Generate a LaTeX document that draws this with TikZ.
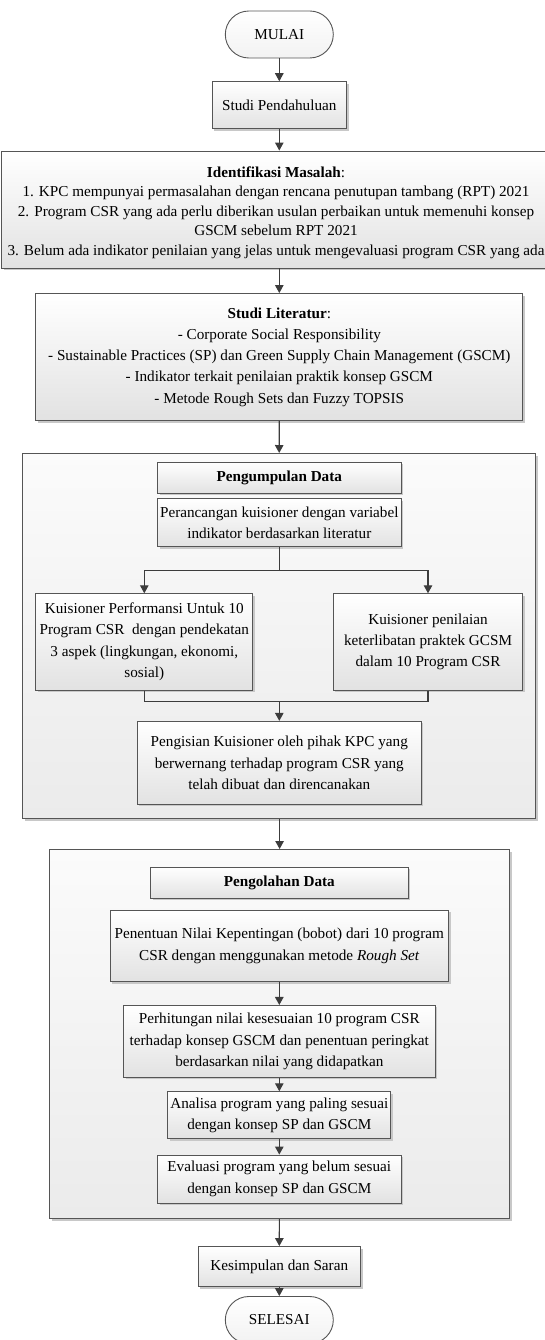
\documentclass[tikz,border=0pt]{standalone}
\usepackage{fontspec}
\setmainfont{Liberation Serif}
\usetikzlibrary{arrows.meta,shadows}
\definecolor{edge}{HTML}{555555}
\definecolor{arrowc}{HTML}{3C3C3C}
\definecolor{boxbot}{HTML}{E2E2E2}
\definecolor{outtop}{HTML}{FBFBFB}
\definecolor{outbot}{HTML}{EBEBEB}
\definecolor{shadowc}{HTML}{C8C8C8}
\begin{document}
\begin{tikzpicture}[x=1pt,y=-1pt,
  every node/.style={font=\fontsize{15.2}{21.3}\selectfont, align=center, inner sep=0pt},
  box/.style={draw=edge, line width=0.9pt, top color=white, bottom color=boxbot,
    drop shadow={shadow xshift=2pt, shadow yshift=-2pt, fill=shadowc, opacity=1}},
  outer/.style={draw=edge, line width=1pt, top color=outtop, bottom color=outbot,
    drop shadow={shadow xshift=2pt, shadow yshift=-2pt, fill=shadowc, opacity=1}},
  term/.style={draw=edge, line width=0.9pt, top color=white, bottom color=white!95!black,
    rounded corners=23.5pt, minimum width=108pt, minimum height=47pt},
  arr/.style={draw=arrowc, line width=1.2pt, -{Triangle[length=8pt,width=8.5pt]}},
  ln/.style={draw=arrowc, line width=1.2pt},
]
\useasboundingbox (0,0) rectangle (545,1340);

% containers first
\node[outer, minimum width=513pt, minimum height=365pt] (pk) at (279,636) {};
\node[outer, minimum width=460pt, minimum height=369pt] (po) at (279.6,1034) {};

\node[term] (mulai) at (279.3,34.5) {MULAI};
\node[box, minimum width=134.6pt, minimum height=47pt] (sp) at (279.3,105.2) {Studi Pendahuluan};
\node[box, minimum width=549pt, minimum height=117pt, font=\fontsize{15.2}{19.5}\selectfont] (im) at (276,209.5)
  {\rule{0pt}{17pt}\textbf{Identifikasi Masalah}:\\
   1. KPC mempunyai permasalahan dengan rencana penutupan tambang (RPT) 2021\\
   2. Program CSR yang ada perlu diberikan usulan perbaikan untuk memenuhi konsep\\
   GSCM sebelum RPT 2021\\
   3. Belum ada indikator penilaian yang jelas untuk mengevaluasi program CSR yang ada};
\node[box, minimum width=487pt, minimum height=127pt] (sl) at (279.3,357)
  {\textbf{Studi Literatur}:\\
   - Corporate Social Responsibility\\
   - Sustainable Practices (SP) dan Green Supply Chain Management (GSCM)\\
   - Indikator terkait penilaian praktik konsep GSCM\\
   - Metode Rough Sets dan Fuzzy TOPSIS};

\node[box, minimum width=243.5pt, minimum height=31.3pt] (hk) at (279.3,477.8) {\textbf{Pengumpulan Data}};
\node[box, minimum width=243.5pt, minimum height=48pt] (pr) at (279.3,522.7)
  {Perancangan kuisioner dengan variabel\\indikator berdasarkan literatur};
\node[box, minimum width=217pt, minimum height=96.3pt] (kl) at (144.3,641.9)
  {Kuisioner Performansi Untuk 10\\Program CSR\ \ dengan pendekatan\\3 aspek (lingkungan, ekonomi,\\sosial)};
\node[box, minimum width=189.6pt, minimum height=96.3pt] (kr) at (428,641.9)
  {Kuisioner penilaian\\keterlibatan praktek GCSM\\dalam 10 Program CSR};
\node[box, minimum width=284.2pt, minimum height=83pt] (pi) at (279.3,762.8)
  {Pengisian Kuisioner oleh pihak KPC yang\\berwernang terhadap program CSR yang\\telah dibuat dan direncanakan};

\node[box, minimum width=257.4pt, minimum height=31.3pt] (ho) at (279.3,882.7) {\textbf{Pengolahan Data}};
\node[box, minimum width=338.4pt, minimum height=71.3pt] (pn) at (279.3,946)
  {Penentuan Nilai Kepentingan (bobot) dari 10 program\\CSR dengan menggunakan metode \textit{Rough Set}};
\node[box, minimum width=311.3pt, minimum height=72pt] (ph) at (279.3,1041.4)
  {Perhitungan nilai kesesuaian 10 program CSR\\terhadap konsep GSCM dan penentuan peringkat\\berdasarkan nilai yang didapatkan};
\node[box, minimum width=223pt, minimum height=47pt] (an) at (279.3,1115.2)
  {Analisa program yang paling sesuai\\dengan konsep SP dan GSCM};
\node[box, minimum width=243.5pt, minimum height=48pt] (ev) at (279.3,1179)
  {Evaluasi program yang belum sesuai\\dengan konsep SP dan GSCM};

\node[box, minimum width=162.4pt, minimum height=40pt] (ks) at (279.3,1266.5) {Kesimpulan dan Saran};
\node[term] (se) at (279.3,1320) {SELESAI};

% connectors
\draw[arr] (mulai) -- (sp);
\draw[arr] (sp.south) -- (sp.south |- im.north);
\draw[arr] (sp.south |- im.south) -- (sl.north);
\draw[arr] (sl) -- (pk);
\coordinate (br) at (279.3,570.7);
\coordinate (mg) at (279.3,701.5);
\draw[ln] (pr) -- (br);
\draw[arr] (br) -| (kl.north);
\draw[arr] (br) -| (kr.north);
\draw[ln] (kl.south) |- (mg);
\draw[ln] (kr.south) |- (mg);
\draw[arr] (mg) -- (pi);
\draw[arr] (pk.south -| po.north) -- (po.north);
\draw[arr] (pn) -- (ph);
\draw[arr] (ph) -- (an);
\draw[arr] (an) -- (ev);
\draw[arr] (po) -- (ks);
\draw[arr] (ks) -- (se);
\end{tikzpicture}
\end{document}
